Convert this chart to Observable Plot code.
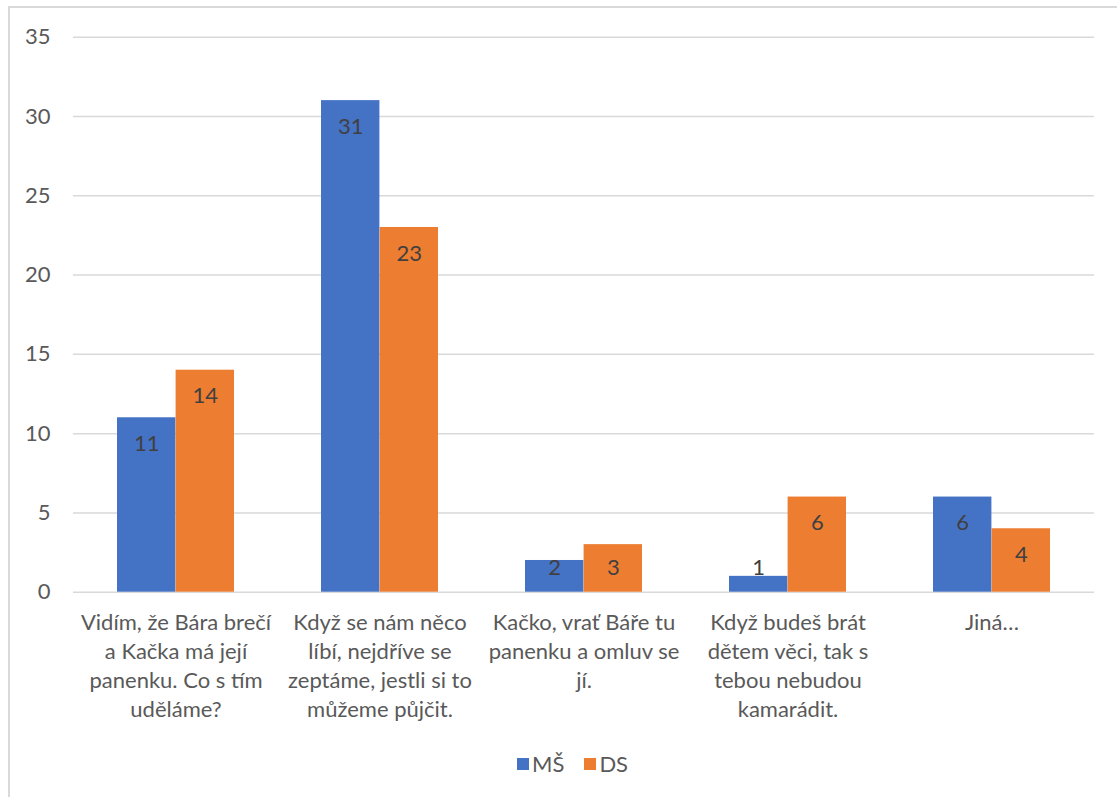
<!DOCTYPE html>
<html><head><meta charset="utf-8">
<script src="https://cdn.jsdelivr.net/npm/d3@7"></script>
<script src="https://cdn.jsdelivr.net/npm/@observablehq/plot@0.6"></script>
<style>
body{margin:0;background:#fff;font-family:Lato, sans-serif;overflow:hidden;}
#frame{position:absolute;left:8px;top:6px;width:1200px;height:900px;border:2px solid #D9D9D9;box-sizing:border-box;}
#chart{position:absolute;left:0;top:0;}
#legend{position:absolute;top:750px;left:517px;display:flex;align-items:center;font-family:Lato, sans-serif;font-size:22px;color:#595959;}
#legend .sw{width:12px;height:12px;display:inline-block;margin-right:3px;}
#legend .it{display:flex;align-items:center;margin-right:20px;}
</style></head>
<body>
<div id="frame"></div>
<div id="chart"></div>
<div id="legend"></div>
<script>
const categories = [
  "Vidím, že Bára brečí a Kačka má její panenku. Co s tím uděláme?",
  "Když se nám něco líbí, nejdříve se zeptáme, jestli si to můžeme půjčit.",
  "Kačko, vrať Báře tu panenku a omluv se jí.",
  "Když budeš brát dětem věci, tak s tebou nebudou kamarádit.",
  "Jiná…"
];
const tickLabels = [
  "Vidím, že Bára brečí\na Kačka má její\npanenku. Co s tím\nuděláme?",
  "Když se nám něco\nlíbí, nejdříve se\nzeptáme, jestli si to\nmůžeme půjčit.",
  "Kačko, vrať Báře tu\npanenku a omluv se\njí.",
  "Když budeš brát\ndětem věci, tak s\ntebou nebudou\nkamarádit.",
  "Jiná…"
];
const series = ["MŠ", "DS"];
const msValues = [11, 31, 2, 1, 6];
const dsValues = [14, 23, 3, 6, 4];
const colors = ["#4472C4", "#ED7D31"];
const yTicks = [0, 5, 10, 15, 20, 25, 30, 35];

const W = 1117, H = 740, ML = 73, MR = 23, MT = 36.7, MB = 148.3;
const PI = 0.426, PO = 0.213;
const step = (W - ML - MR) / (categories.length - PI + 2 * PO);
const half = step * (1 - PI) / 2;

const ms = categories.map((c, i) => ({category: c, series: series[0], value: msValues[i]}));
const ds = categories.map((c, i) => ({category: c, series: series[1], value: dsValues[i]}));
const labelY = d => Math.max(d.value, 3.2);

const plot = Plot.plot({
  width: W, height: H,
  marginLeft: ML, marginRight: MR, marginTop: MT, marginBottom: MB,
  style: {fontFamily: "Lato, sans-serif", fontSize: "22px", color: "#595959", background: "transparent", overflow: "visible"},
  x: {domain: categories, paddingInner: PI, paddingOuter: PO},
  y: {domain: [0, 35]},
  marks: [
    Plot.gridY(yTicks, {stroke: "#D9D9D9", strokeOpacity: 1, strokeWidth: 1.5}),
    Plot.barY(ms, {x: "category", y: "value", fill: colors[0], insetRight: half, insetLeft: 0}),
    Plot.barY(ds, {x: "category", y: "value", fill: colors[1], insetLeft: half, insetRight: 0}),
    Plot.text(ms, {x: "category", y: labelY, text: "value", dx: -half / 2, dy: 26, fill: "#404040", fontSize: 22}),
    Plot.text(ds, {x: "category", y: labelY, text: "value", dx: half / 2, dy: 26, fill: "#404040", fontSize: 22}),
    Plot.axisY(yTicks, {tickSize: 0, tickPadding: 23, fontSize: 22, label: null}),
    Plot.axisX({tickSize: 0, tickPadding: 17, fontSize: 22, lineHeight: 1.32, label: null,
      tickFormat: c => tickLabels[categories.indexOf(c)]})
  ]
});
document.getElementById("chart").appendChild(plot);

const lg = document.getElementById("legend");
series.forEach((s, i) => {
  const it = document.createElement("span");
  it.className = "it";
  it.innerHTML = `<span class="sw" style="background:${colors[i]}"></span><span>${s}</span>`;
  lg.appendChild(it);
});
</script>
</body></html>
